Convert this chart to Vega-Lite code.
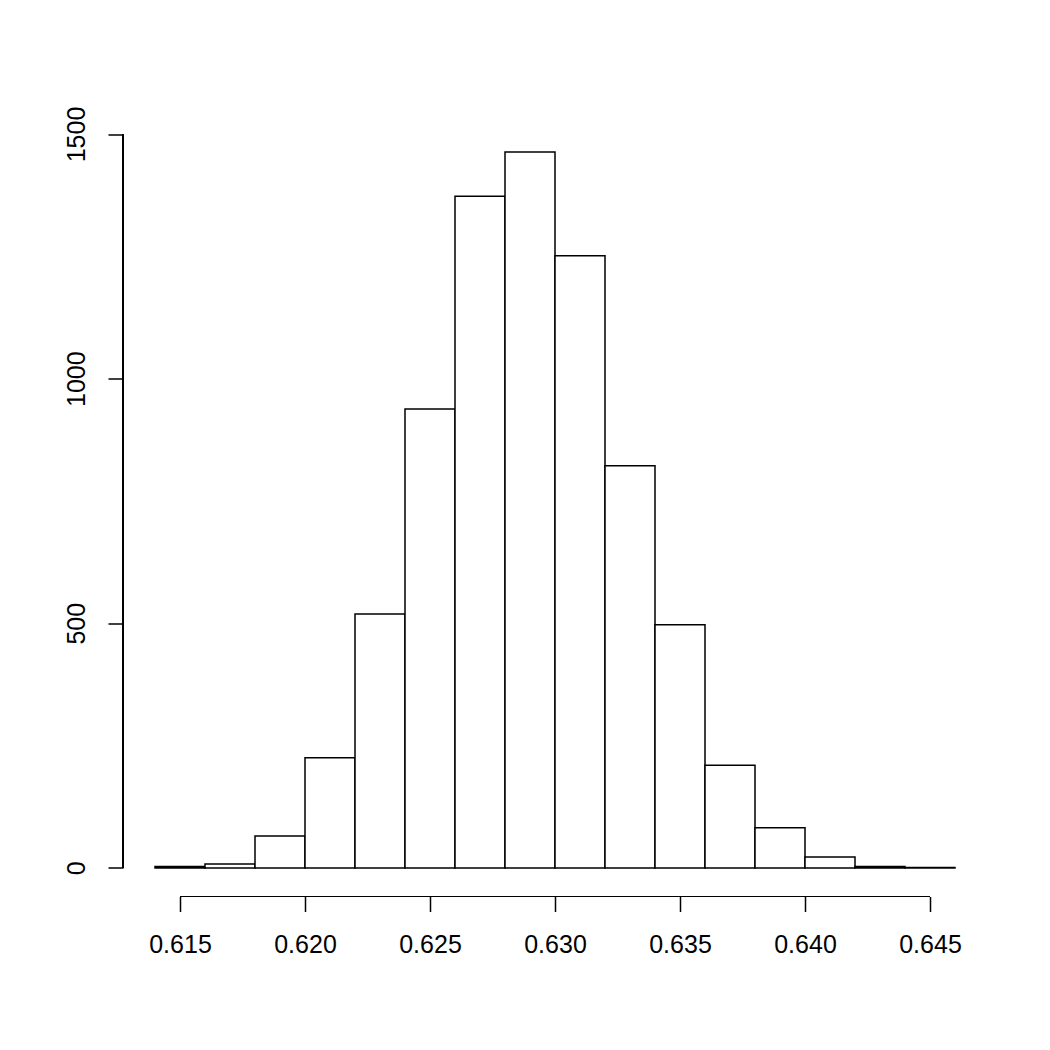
{
  "$schema": "https://vega.github.io/schema/vega-lite/v6.json",
  "width": 864,
  "height": 773,
  "autosize": {"type": "none"},
  "padding": {"left": 123, "top": 123.5, "right": 63, "bottom": 153.5},
  "background": "white",
  "config": {"view": {"stroke": null}, "font": "Liberation Sans"},
  "data": {"values": [
    {"lo": 0.614, "hi": 0.616, "count": 3},
    {"lo": 0.616, "hi": 0.618, "count": 8},
    {"lo": 0.618, "hi": 0.620, "count": 65},
    {"lo": 0.620, "hi": 0.622, "count": 225},
    {"lo": 0.622, "hi": 0.624, "count": 519},
    {"lo": 0.624, "hi": 0.626, "count": 938},
    {"lo": 0.626, "hi": 0.628, "count": 1373},
    {"lo": 0.628, "hi": 0.630, "count": 1463},
    {"lo": 0.630, "hi": 0.632, "count": 1251},
    {"lo": 0.632, "hi": 0.634, "count": 822},
    {"lo": 0.634, "hi": 0.636, "count": 497},
    {"lo": 0.636, "hi": 0.638, "count": 210},
    {"lo": 0.638, "hi": 0.640, "count": 82},
    {"lo": 0.640, "hi": 0.642, "count": 22},
    {"lo": 0.642, "hi": 0.644, "count": 3},
    {"lo": 0.644, "hi": 0.646, "count": 1}
  ]},
  "layer": [
    {
      "mark": {"type": "rect", "fill": "white", "stroke": "black", "strokeWidth": 1.5},
      "encoding": {
        "x": {"field": "lo", "type": "quantitative",
              "scale": {"domain": [0.61272, 0.64728], "nice": false, "zero": false},
              "axis": {"values": [0.615, 0.62, 0.625, 0.63, 0.635, 0.64, 0.645], "format": ".3f",
                       "domain": false, "grid": false, "title": null,
                       "tickColor": "black", "tickSize": 15, "tickWidth": 1.5,
                       "labelFontSize": 25, "labelColor": "black", "labelPadding": 21, "labelFlush": false}},
        "x2": {"field": "hi"},
        "y": {"field": "count", "type": "quantitative",
              "scale": {"domain": [-58.5, 1521.5], "nice": false, "zero": false},
              "axis": {"values": [0, 500, 1000, 1500], "format": "d", "domain": false, "grid": false, "title": null,
                       "tickColor": "black", "tickSize": 15, "tickWidth": 1.5,
                       "labelFontSize": 25, "labelColor": "black", "labelAngle": -90,
                       "labelPadding": 19, "labelFlush": false}},
        "y2": {"datum": 0}
      }
    },
    {
      "mark": {"type": "rule", "stroke": "black", "strokeWidth": 1.2},
      "encoding": {
        "x": {"datum": 0.615, "type": "quantitative"},
        "x2": {"datum": 0.645},
        "y": {"datum": -58.5, "type": "quantitative"}
      }
    },
    {
      "mark": {"type": "rule", "stroke": "black", "strokeWidth": 1.5},
      "encoding": {
        "x": {"datum": 0.61272, "type": "quantitative"},
        "y": {"datum": 0, "type": "quantitative"},
        "y2": {"datum": 1500}
      }
    }
  ]
}
